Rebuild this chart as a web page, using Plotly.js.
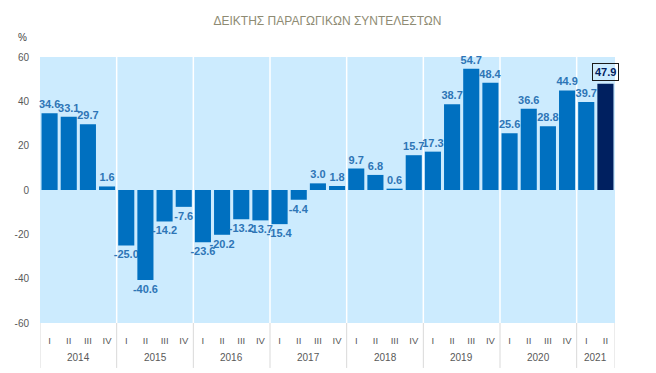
<!DOCTYPE html>
<html>
<head>
<meta charset="utf-8">
<script src="https://cdn.plot.ly/plotly-3.0.1.min.js"></script>
<style>html,body{margin:0;padding:0;background:#fff;}#chart{width:656px;height:373px;}</style>
</head>
<body>
<div id="chart"></div>
<script>
const yearLabels = ['2014','2015','2016','2017','2018','2019','2020','2021'];
const quarterLabels = ['I','II','III','IV'];
const values = [34.6, 33.1, 29.7, 1.6,
                -25.0, -40.6, -14.2, -7.6,
                -23.6, -20.2, -13.2, -13.7,
                -15.4, -4.4, 3.0, 1.8,
                9.7, 6.8, 0.6, 15.7,
                17.3, 38.7, 54.7, 48.4,
                25.6, 36.6, 28.8, 44.9,
                39.7, 47.9];
const yTickValues = [-60, -40, -20, 0, 20, 40, 60];
const yTickLabels = ['-60', '-40', '-20', '0', '20', '40', '60'];
const title = 'ΔΕΙΚΤΗΣ ΠΑΡΑΓΩΓΙΚΩΝ ΣΥΝΤΕΛΕΣΤΩΝ';

const n = values.length;
const xIdx = values.map((v, i) => i);
const xQuarters = values.map((v, i) => quarterLabels[i % 4]);
const last = n - 1;
const barColors = values.map((v, i) => i === last ? '#002060' : '#0070C0');
const texts = values.map((v, i) => i === last ? '' : v.toFixed(1));

const FONT = 'Liberation Sans, Arial, sans-serif';
const shapes = [];
const annotations = [];
const nGroups = Math.ceil(n / 4);
for (let k = 0; k <= nGroups; k++) {
  const pos = Math.min(k * 4, n) - 0.5;
  if (k > 0 && k < nGroups) {
    shapes.push({type: 'line', xref: 'x', yref: 'paper', x0: pos, x1: pos, y0: 0, y1: 1,
                 line: {color: '#ffffff', width: 1.5}, layer: 'below'});
  }
  shapes.push({type: 'line', xref: 'x', yref: 'paper', x0: pos, x1: pos, y0: 0, y1: -0.169,
               line: {color: '#D9D9D9', width: 1}});
}
for (let k = 0; k < nGroups; k++) {
  const a = k * 4, b = Math.min(k * 4 + 3, n - 1);
  annotations.push({text: yearLabels[k], xref: 'x', yref: 'paper', x: (a + b) / 2, y: -0.128,
                    showarrow: false, xanchor: 'center', yanchor: 'middle',
                    font: {family: FONT, size: 10, color: '#595959'}});
}
annotations.push({text: '%', xref: 'paper', yref: 'paper', x: -0.031, y: 1.075, showarrow: false,
  xanchor: 'center', yanchor: 'middle', font: {family: FONT, size: 10, color: '#404040'}});
annotations.push({text: '<b>' + values[last].toFixed(1) + '</b>', x: last,
  xref: 'x', yref: 'y', y: values[last], yanchor: 'bottom', yshift: 3, showarrow: false,
  bordercolor: '#1a1a1a', borderwidth: 1, borderpad: 2, bgcolor: 'rgba(255,255,255,0)',
  font: {family: FONT, size: 11, color: '#002060'}});

const trace = {
  type: 'bar',
  x: xIdx,
  y: values,
  marker: {color: barColors},
  text: texts,
  textposition: 'outside',
  constraintext: 'none',
  cliponaxis: false,
  textfont: {family: FONT, size: 11, color: '#2E75B6', weight: 'bold'},
  hoverinfo: 'none'
};

const layout = {
  width: 656, height: 373,
  margin: {l: 40, r: 41, t: 57, b: 50},
  paper_bgcolor: '#ffffff',
  plot_bgcolor: '#CCEBFE',
  bargap: 0.16,
  showlegend: false,
  title: {text: title, x: 0.5, xref: 'paper', y: 0.945, yref: 'container', yanchor: 'middle',
          font: {family: 'Liberation Sans Narrow, Liberation Sans, sans-serif', size: 12, color: '#8E8B73'}},
  xaxis: {range: [-0.5, n - 0.5], tickvals: xIdx, ticktext: xQuarters,
          showgrid: false, zeroline: false, showline: false,
          ticks: 'outside', ticklen: 9, tickcolor: 'rgba(0,0,0,0)',
          tickfont: {family: FONT, size: 9.5, color: '#595959'}},
  yaxis: {range: [-60, 60], tickvals: yTickValues, ticktext: yTickLabels,
          showgrid: false, zeroline: false, showline: false,
          ticks: 'outside', ticklen: 8, tickcolor: 'rgba(0,0,0,0)',
          tickfont: {family: FONT, size: 10, color: '#595959'}},
  shapes: shapes,
  annotations: annotations
};

Plotly.newPlot('chart', [trace], layout, {displayModeBar: false, staticPlot: true});
</script>
</body>
</html>
